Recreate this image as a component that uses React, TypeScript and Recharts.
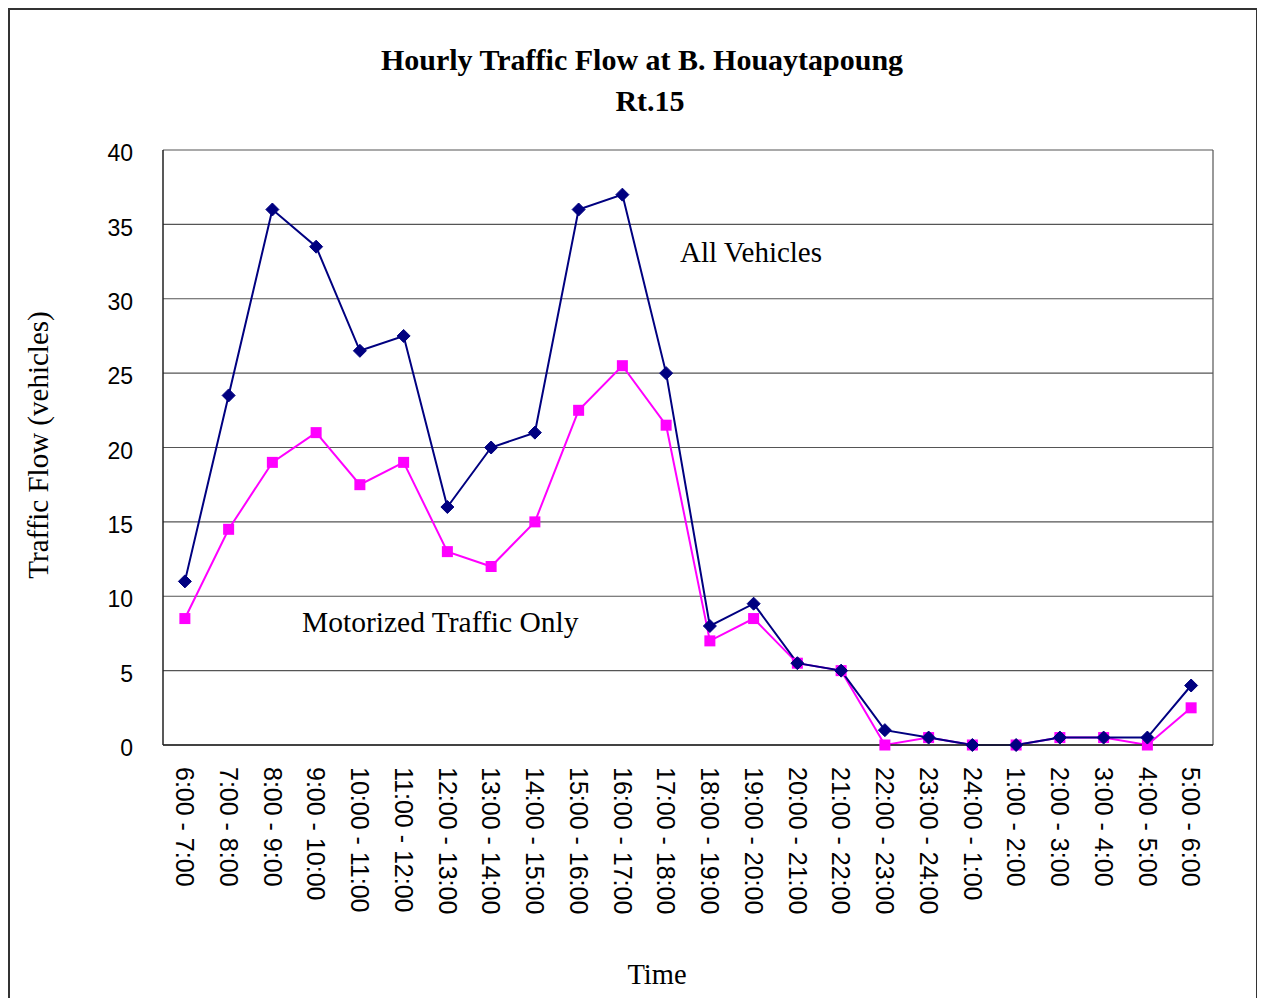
import { LineChart, Line, XAxis, YAxis, CartesianGrid } from "recharts";

const TIMES = [
    "6:00 - 7:00", "7:00 - 8:00", "8:00 - 9:00", "9:00 - 10:00",
    "10:00 - 11:00", "11:00 - 12:00", "12:00 - 13:00", "13:00 - 14:00",
    "14:00 - 15:00", "15:00 - 16:00", "16:00 - 17:00", "17:00 - 18:00",
    "18:00 - 19:00", "19:00 - 20:00", "20:00 - 21:00", "21:00 - 22:00",
    "22:00 - 23:00", "23:00 - 24:00", "24:00 - 1:00", "1:00 - 2:00",
    "2:00 - 3:00", "3:00 - 4:00", "4:00 - 5:00", "5:00 - 6:00",
];

const ALL_VEHICLES = [
    11, 23.5, 36, 33.5, 26.5, 27.5, 16, 20, 21, 36, 37, 25,
    8, 9.5, 5.5, 5, 1, 0.5, 0, 0, 0.5, 0.5, 0.5, 4,
];

const MOTORIZED = [
    8.5, 14.5, 19, 21, 17.5, 19, 13, 12, 15, 22.5, 25.5, 21.5,
    7, 8.5, 5.5, 5, 0, 0.5, 0, 0, 0.5, 0.5, 0, 2.5,
];

const Y_TICKS = [0, 5, 10, 15, 20, 25, 30, 35, 40];

const SERIF = "'Liberation Serif', 'Times New Roman', serif";
const SANS = "'Liberation Sans', Arial, sans-serif";

const NAVY = "#000080";
const MAGENTA = "#ff00ff";

const data = TIMES.map((t, i) => ({
    time: t,
    all: ALL_VEHICLES[i],
    motor: MOTORIZED[i],
}));

function Diamond({ cx, cy }: any) {
    if (cx == null || cy == null) return null;
    const r = 6.5;
    return (
        <polygon
            points={`${cx},${cy - r} ${cx + r},${cy} ${cx},${cy + r} ${cx - r},${cy}`}
            fill={NAVY}
            stroke={NAVY}
        />
    );
}

function Square({ cx, cy }: any) {
    if (cx == null || cy == null) return null;
    const s = 5.5;
    return <rect x={cx - s} y={cy - s} width={s * 2} height={s * 2} fill={MAGENTA} />;
}

function TimeTick({ x, y, payload }: any) {
    return (
        <text
            x={x}
            y={y}
            transform={`rotate(90, ${x}, ${y})`}
            textAnchor="start"
            dy="0.35em"
            fontFamily={SANS}
            fontSize={25}
            fill="#000"
        >
            {payload.value}
        </text>
    );
}

// right edge of the plot area, so the grid closes the box like the excel chart
const plotRightEdge = ({ offset }: any) => [offset.left + offset.width];

export default function App() {
    return (
        <div style={{ position: "relative", width: 1250, height: 1000 }}>
            <div
                style={{
                    position: "absolute", left: 0, top: 0, width: 1250, height: 1000,
                    border: "2px solid #333", boxSizing: "border-box",
                }}
            />
            <div style={{ position: "absolute", left: 0, top: 0 }}>
                <LineChart
                    width={1250}
                    height={992}
                    data={data}
                    margin={{ top: 142, right: 45, bottom: 15, left: 95 }}
                >
                    <CartesianGrid
                        stroke="#555"
                        strokeWidth={1.2}
                        verticalCoordinatesGenerator={plotRightEdge}
                    />
                    <XAxis
                        dataKey="time"
                        interval={0}
                        height={240}
                        padding={{ left: 21.875, right: 21.875 }}
                        tickLine={false}
                        tickMargin={16}
                        axisLine={{ stroke: "#222", strokeWidth: 1.5 }}
                        tick={<TimeTick />}
                    />
                    <YAxis
                        domain={[0, 40]}
                        ticks={Y_TICKS}
                        width={60}
                        tickLine={false}
                        tickMargin={24}
                        axisLine={{ stroke: "#222", strokeWidth: 1.5 }}
                        tick={{ fill: "#000", fontSize: 23, fontFamily: SANS, dy: 3 }}
                    />
                    <Line
                        dataKey="motor"
                        stroke={MAGENTA}
                        strokeWidth={2}
                        dot={<Square />}
                        activeDot={false}
                        isAnimationActive={false}
                    />
                    <Line
                        dataKey="all"
                        stroke={NAVY}
                        strokeWidth={2}
                        dot={<Diamond />}
                        activeDot={false}
                        isAnimationActive={false}
                    />
                    <text x={634} y={62} textAnchor="middle" fontFamily={SERIF} fontWeight="bold" fontSize={30} fill="#000">
                        Hourly Traffic Flow at B. Houaytapoung
                    </text>
                    <text x={642} y={103} textAnchor="middle" fontFamily={SERIF} fontWeight="bold" fontSize={30} fill="#000">
                        Rt.15
                    </text>
                    <text x={672} y={254} fontFamily={SERIF} fontSize={29} fill="#000">
                        All Vehicles
                    </text>
                    <text x={294} y={624} fontFamily={SERIF} fontSize={29.5} fill="#000">
                        Motorized Traffic Only
                    </text>
                    <text x={649} y={976} textAnchor="middle" fontFamily={SERIF} fontSize={28.5} fill="#000">
                        Time
                    </text>
                    <text
                        x={30}
                        y={437}
                        transform="rotate(-90, 30, 437)"
                        textAnchor="middle"
                        dy="0.35em"
                        fontFamily={SERIF}
                        fontSize={29}
                        fill="#000"
                    >
                        Traffic Flow (vehicles)
                    </text>
                </LineChart>
            </div>
        </div>
    );
}
